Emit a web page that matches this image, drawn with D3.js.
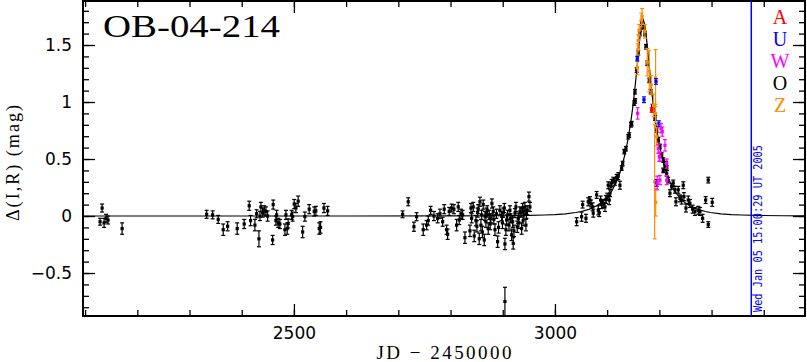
<!DOCTYPE html>
<html>
<head>
<meta charset="utf-8">
<script src="https://cdn.jsdelivr.net/npm/d3@7"></script>
<style>
  body { margin: 0; background: #fff; }
</style>
</head>
<body>
<div id="grafico"></div>
<script>
const width = 807;
const height = 362;

// === DATOS ===
const titulo = "OB-04-214";
const xDominio = [2096, 3479];
const yDominio = [-0.877, 1.886];
const xTicksMayores = [2500, 3000];
const xTicksMenores = d3.range(2100, 3480, 100);
const yTicksMayores = [-0.5, 0, 0.5, 1, 1.5];
const yTicksMenores = d3.range(-0.8, 1.85, 0.1).map(v => Math.round(v * 10) / 10);
const fechaJD = 3376.1;
const fechaTexto = "Wed Jan 05 15:00:29 UT 2005";
const observatorios = ["A", "U", "W", "O", "Z"];
const coloresObs = ["#ff0000", "#0000ff", "#ff00ff", "#000000", "#ff8c00"];

// modelo (JD-2450000, Δmag)
const curvaModelo = [
  [2080, 0], [2600, 0.0001], [2800, 0.0008], [2900, 0.0024], [2950, 0.0048], [2980, 0.0088],
  [3000, 0.0125], [3020, 0.0194], [3040, 0.031], [3050, 0.0393], [3065, 0.058], [3080, 0.0894],
  [3090, 0.121], [3100, 0.1654], [3108, 0.213], [3115, 0.2729], [3120, 0.325], [3125, 0.3878],
  [3130, 0.465], [3135, 0.5588], [3140, 0.674], [3145, 0.8157], [3149, 0.951], [3152, 1.069],
  [3155, 1.20], [3158, 1.340], [3160, 1.436], [3163, 1.575], [3166, 1.681], [3169, 1.722],
  [3172, 1.681], [3175, 1.575], [3178, 1.436], [3180, 1.340], [3183, 1.20], [3186, 1.069],
  [3189, 0.951], [3193, 0.8157], [3198, 0.674], [3203, 0.5588], [3208, 0.465], [3213, 0.3878],
  [3218, 0.325], [3223, 0.2729], [3230, 0.213], [3238, 0.1654], [3248, 0.121], [3258, 0.0894],
  [3273, 0.058], [3288, 0.0393], [3298, 0.031], [3318, 0.0194], [3338, 0.0125], [3358, 0.0088],
  [3388, 0.0048], [3438, 0.0024], [3490, 0.0014]
];

// [JD-2450000, Δmag, error]
const datosA = [[3185.2, 0.93, 0.02]];

const datosU = [
  [3157.7, 1.38, 0.02], [3170.5, 1.02, 0.025], [3193.5, 1.18, 0.025],
  [3199.2, 0.81, 0.025], [3194.8, 0.29, 0.03]
];

const datosW = [
  [3158.4, 0.9, 0.05], [3203.0, 0.77, 0.04], [3205.6, 0.74, 0.04], [3210.7, 0.62, 0.05],
  [3197.9, 0.59, 0.04], [3199.8, 0.52, 0.04], [3214.0, 0.46, 0.04], [3214.0, 0.315, 0.04],
  [3195.9, 0.29, 0.06], [3201.1, 0.315, 0.04], [3201.1, 0.52, 0.04]
];

const datosO = [
  [2128.7, -0.05, 0.03], [2132.6, 0.07, 0.035], [2136.4, -0.06, 0.04], [2140.2, -0.02, 0.035],
  [2144.0, -0.035, 0.035], [2170.9, -0.11, 0.05],
  [2332.8, 0.015, 0.035], [2344.3, 0.01, 0.035], [2355.0, -0.03, 0.035], [2364.6, -0.12, 0.05],
  [2373.0, -0.09, 0.04], [2391.4, -0.11, 0.05], [2404.8, -0.07, 0.04], [2414.4, 0.09, 0.04],
  [2417.0, -0.04, 0.045], [2425.3, -0.08, 0.05], [2428.5, 0.02, 0.035], [2433.0, -0.2, 0.07],
  [2435.0, 0.0, 0.04], [2436.8, 0.08, 0.04], [2440.0, 0.03, 0.04], [2443.0, 0.05, 0.04],
  [2446.4, 0.04, 0.04], [2449.6, 0.0, 0.045], [2459.2, -0.21, 0.04], [2460.3, 0.1, 0.04],
  [2465.5, -0.04, 0.04], [2466.9, 0.01, 0.04], [2469.9, -0.06, 0.04], [2473.2, -0.07, 0.04],
  [2482.8, -0.12, 0.05], [2484.7, 0.01, 0.04], [2487.2, -0.11, 0.05], [2489.0, -0.065, 0.04],
  [2495.6, 0.01, 0.04], [2497.5, -0.005, 0.04], [2500.6, 0.105, 0.04], [2503.8, 0.07, 0.04],
  [2508.2, 0.13, 0.045], [2516.7, -0.14, 0.05], [2521.0, -0.005, 0.04], [2529.3, 0.06, 0.04],
  [2538.9, 0.04, 0.04], [2542.0, 0.045, 0.04], [2548.5, -0.11, 0.05], [2551.0, -0.1, 0.05],
  [2557.5, 0.07, 0.04], [2564.6, 0.045, 0.04],
  [2708.2, 0.015, 0.03], [2719.0, 0.125, 0.035], [2729.9, -0.094, 0.04], [2735.0, -0.006, 0.035],
  [2747.7, -0.12, 0.05], [2754.2, -0.08, 0.04], [2757.3, -0.04, 0.04], [2761.9, 0.05, 0.035],
  [2768.2, 0.0, 0.04], [2775.3, -0.02, 0.04], [2779.7, 0.02, 0.04], [2784.9, -0.05, 0.04],
  [2787.9, 0.06, 0.04], [2792.5, -0.12, 0.04], [2794.4, -0.16, 0.045], [2797.5, 0.04, 0.035],
  [2802.1, 0.07, 0.035], [2806.5, 0.06, 0.04], [2811.7, -0.08, 0.05], [2814.8, 0.08, 0.04],
  [2816.7, -0.035, 0.04], [2820.0, 0.02, 0.04], [2823.2, 0.01, 0.04], [2827.6, -0.19, 0.05],
  [2837.2, -0.13, 0.05], [2839.1, 0.07, 0.04], [2840.4, -0.02, 0.04], [2843.5, 0.08, 0.04],
  [2845.4, -0.175, 0.05], [2848.7, -0.04, 0.045], [2851.9, 0.03, 0.04], [2855.0, -0.2, 0.05],
  [2856.3, 0.125, 0.04], [2858.2, -0.08, 0.05], [2859.6, 0.01, 0.04], [2862.6, 0.1, 0.04],
  [2864.6, -0.21, 0.05], [2865.9, 0.0, 0.04], [2867.8, -0.05, 0.05], [2870.3, 0.05, 0.04],
  [2872.2, -0.11, 0.05], [2874.1, 0.01, 0.04], [2877.4, -0.02, 0.04], [2879.3, 0.11, 0.04],
  [2881.8, 0.04, 0.04], [2885.1, -0.12, 0.05], [2890.2, -0.225, 0.05], [2894.6, 0.05, 0.04],
  [2897.9, 0.0, 0.04], [2901.0, 0.03, 0.04], [2904.2, -0.245, 0.05], [2906.1, -0.12, 0.05],
  [2907.5, -0.035, 0.045], [2909.4, 0.01, 0.04], [2911.9, -0.08, 0.05], [2913.8, 0.05, 0.04],
  [2917.0, -0.165, 0.05], [2919.0, -0.05, 0.05], [2920.1, -0.24, 0.05], [2923.4, 0.025, 0.04],
  [2925.3, 0.08, 0.04], [2927.8, -0.094, 0.05], [2929.7, -0.02, 0.045], [2933.0, 0.04, 0.04],
  [2936.2, -0.11, 0.05], [2938.1, 0.07, 0.04], [2940.6, 0.01, 0.04], [2942.5, 0.08, 0.04],
  [2944.4, -0.08, 0.05], [2946.9, 0.05, 0.04], [2950.2, 0.17, 0.04], [2952.1, 0.08, 0.04],
  [2850.5, -0.09, 0.05], [2853.0, 0.06, 0.04], [2861.0, -0.14, 0.05], [2868.9, 0.03, 0.04],
  [2876.0, -0.07, 0.05], [2883.0, -0.03, 0.04], [2888.0, 0.02, 0.04], [2892.0, -0.1, 0.05],
  [2899.5, -0.06, 0.05], [2903.0, 0.07, 0.04], [2915.0, -0.02, 0.04], [2921.5, -0.13, 0.05],
  [2931.0, -0.06, 0.05], [2935.0, 0.03, 0.04], [2939.0, -0.04, 0.045], [2945.5, 0.02, 0.04],
  [2904.2, -0.75, 0.125],
  [3041.6, -0.05, 0.035], [3051.1, -0.006, 0.04], [3053.1, 0.1, 0.03], [3059.4, -0.02, 0.035],
  [3063.8, 0.125, 0.035], [3067.0, 0.14, 0.03], [3069.0, 0.11, 0.03], [3072.2, 0.08, 0.035],
  [3073.4, 0.025, 0.035], [3079.9, 0.185, 0.03], [3083.0, 0.05, 0.04], [3084.9, 0.03, 0.035],
  [3087.5, 0.14, 0.035], [3089.5, 0.1, 0.035], [3092.5, 0.11, 0.035], [3095.8, 0.08, 0.04],
  [3097.7, 0.145, 0.035], [3100.2, 0.17, 0.03], [3102.1, 0.27, 0.03], [3104.0, 0.14, 0.04],
  [3105.4, 0.2, 0.03], [3107.3, 0.26, 0.03], [3108.6, 0.29, 0.03], [3111.7, 0.315, 0.025],
  [3114.9, 0.3, 0.03], [3118.2, 0.34, 0.025], [3121.3, 0.35, 0.03], [3124.5, 0.27, 0.035],
  [3127.8, 0.42, 0.02], [3129.7, 0.46, 0.02], [3132.8, 0.565, 0.02], [3136.0, 0.59, 0.02],
  [3140.4, 0.695, 0.02], [3142.3, 0.71, 0.02], [3145.6, 0.8, 0.02], [3146.9, 0.81, 0.02],
  [3151.9, 0.99, 0.02], [3153.8, 1.01, 0.02], [3153.3, 1.09, 0.02], [3156.5, 1.28, 0.02],
  [3159.6, 1.43, 0.02], [3162.8, 1.6, 0.02], [3166.1, 1.69, 0.02], [3169.2, 1.66, 0.02],
  [3172.4, 1.6, 0.02], [3174.3, 1.485, 0.02], [3176.8, 1.34, 0.02], [3180.7, 1.19, 0.02],
  [3183.3, 1.09, 0.02], [3187.2, 0.96, 0.02], [3191.6, 0.86, 0.02], [3194.8, 0.755, 0.02],
  [3197.9, 0.67, 0.02], [3201.1, 0.61, 0.02], [3204.4, 0.535, 0.02], [3207.5, 0.49, 0.02],
  [3210.7, 0.43, 0.02], [3214.0, 0.42, 0.02], [3207.5, 0.4, 0.02], [3212.6, 0.46, 0.02],
  [3214.0, 0.375, 0.025], [3217.0, 0.315, 0.025], [3220.3, 0.2, 0.03], [3223.6, 0.26, 0.025],
  [3226.6, 0.29, 0.025], [3229.9, 0.23, 0.03], [3231.8, 0.125, 0.035], [3236.2, 0.23, 0.03],
  [3239.5, 0.155, 0.03], [3242.7, 0.14, 0.035], [3245.8, 0.27, 0.03], [3247.1, 0.17, 0.035],
  [3251.0, 0.07, 0.035], [3255.4, 0.14, 0.035], [3258.6, 0.11, 0.035], [3263.8, 0.06, 0.035],
  [3268.2, 0.04, 0.035], [3274.5, 0.05, 0.035], [3277.8, 0.04, 0.035], [3282.9, -0.02, 0.035],
  [3288.7, 0.14, 0.03], [3293.7, 0.315, 0.025], [3293.7, -0.075, 0.025], [3301.3, 0.12, 0.035]
];

const datosZ = [
  [3158.0, 1.30, 0.06], [3158.8, 1.46, 0.05], [3159.6, 1.54, 0.05], [3161.2, 1.63, 0.05],
  [3165.5, 1.72, 0.06], [3167.0, 1.75, 0.07], [3172.4, 1.62, 0.06], [3176.8, 1.35, 0.12],
  [3180.7, 1.27, 0.18], [3184.4, 1.15, 0.08], [3188.8, 0.97, 0.1], [3192.8, 1.21, 0.25],
  [3192.6, 0.9, 0.08], [3194.8, 0.695, 0.08], [3191.0, 0.3, 0.5], [3193.0, 0.12, 0.12]
];

const series = [
  { nombre: "O", datos: datosO },
  { nombre: "Z", datos: datosZ },
  { nombre: "U", datos: datosU },
  { nombre: "W", datos: datosW },
  { nombre: "A", datos: datosA }
];

// === ESCALAS ===
const plot = { left: 83, right: 805, top: 1, bottom: 316 };
const x = d3.scaleLinear().domain(xDominio).range([plot.left, plot.right]);
const y = d3.scaleLinear().domain(yDominio).range([plot.bottom, plot.top]);
const colorObs = d3.scaleOrdinal().domain(observatorios).range(coloresObs);

const svg = d3.select("#grafico")
  .append("svg")
  .attr("width", width)
  .attr("height", height);

svg.append("rect").attr("width", width).attr("height", height).attr("fill", "#fff");

svg.append("defs").append("clipPath").attr("id", "clip")
  .append("rect")
  .attr("x", plot.left).attr("y", plot.top)
  .attr("width", plot.right - plot.left).attr("height", plot.bottom - plot.top);

// === EJES (ticks hacia dentro) ===
function ejes(eje) {
  eje.selectAll(".domain").remove();
  eje.selectAll("line").attr("stroke", "#000").attr("stroke-width", 1.3);
}

const fuenteNum = "'DejaVu Sans', sans-serif";

// abajo
svg.append("g").attr("transform", `translate(0,${plot.bottom})`)
  .call(d3.axisBottom(x).tickValues(xTicksMenores).tickSize(-6).tickFormat(""))
  .call(ejes);
svg.append("g").attr("transform", `translate(0,${plot.bottom})`)
  .call(d3.axisBottom(x).tickValues(xTicksMayores).tickSize(-12).tickPadding(11).tickFormat(d3.format("d")))
  .call(ejes)
  .selectAll("text").attr("font-family", fuenteNum).attr("font-size", 17).attr("fill", "#000");

// arriba
svg.append("g").attr("transform", `translate(0,${plot.top})`)
  .call(d3.axisTop(x).tickValues(xTicksMenores).tickSize(-6).tickFormat(""))
  .call(ejes);
svg.append("g").attr("transform", `translate(0,${plot.top})`)
  .call(d3.axisTop(x).tickValues(xTicksMayores).tickSize(-12).tickFormat(""))
  .call(ejes);

// izquierda
svg.append("g").attr("transform", `translate(${plot.left},0)`)
  .call(d3.axisLeft(y).tickValues(yTicksMenores).tickSize(-6).tickFormat(""))
  .call(ejes);
svg.append("g").attr("transform", `translate(${plot.left},0)`)
  .call(d3.axisLeft(y).tickValues(yTicksMayores).tickSize(-12).tickPadding(11)
    .tickFormat(d => d3.format("")(d).replace("-", "−")))
  .call(ejes)
  .selectAll("text").attr("font-family", fuenteNum).attr("font-size", 17).attr("fill", "#000");

// derecha
svg.append("g").attr("transform", `translate(${plot.right},0)`)
  .call(d3.axisRight(y).tickValues(yTicksMenores).tickSize(-6).tickFormat(""))
  .call(ejes);
svg.append("g").attr("transform", `translate(${plot.right},0)`)
  .call(d3.axisRight(y).tickValues(yTicksMayores).tickSize(-12).tickFormat(""))
  .call(ejes);

// marco
svg.append("rect")
  .attr("x", plot.left).attr("y", plot.top)
  .attr("width", plot.right - plot.left).attr("height", plot.bottom - plot.top)
  .attr("fill", "none").attr("stroke", "#000").attr("stroke-width", 2);

// === CURVA DEL MODELO ===
const grupoDatos = svg.append("g").attr("clip-path", "url(#clip)");

grupoDatos.append("path")
  .datum(curvaModelo)
  .attr("fill", "none")
  .attr("stroke", "#000")
  .attr("stroke-width", 1.2)
  .attr("d", d3.line().x(d => x(d[0])).y(d => y(d[1])));

// === PUNTOS CON BARRAS DE ERROR ===
series.forEach(s => {
  const col = colorObs(s.nombre);
  const g = grupoDatos.append("g").attr("class", "serie-" + s.nombre);
  const puntos = g.selectAll("g").data(s.datos).join("g");

  puntos.append("line")
    .attr("x1", d => x(d[0])).attr("x2", d => x(d[0]))
    .attr("y1", d => y(d[1] - d[2])).attr("y2", d => y(d[1] + d[2]))
    .attr("stroke", col).attr("stroke-width", 1.2);
  puntos.append("line")
    .attr("x1", d => x(d[0]) - 2).attr("x2", d => x(d[0]) + 2)
    .attr("y1", d => y(d[1] - d[2])).attr("y2", d => y(d[1] - d[2]))
    .attr("stroke", col).attr("stroke-width", 1.2);
  puntos.append("line")
    .attr("x1", d => x(d[0]) - 2).attr("x2", d => x(d[0]) + 2)
    .attr("y1", d => y(d[1] + d[2])).attr("y2", d => y(d[1] + d[2]))
    .attr("stroke", col).attr("stroke-width", 1.2);
  puntos.append("rect")
    .attr("x", d => x(d[0]) - 1.6).attr("y", d => y(d[1]) - 1.6)
    .attr("width", 3.2).attr("height", 3.2)
    .attr("fill", col);
});

// === LINEA DE FECHA ===
svg.append("line")
  .attr("x1", x(fechaJD)).attr("x2", x(fechaJD))
  .attr("y1", plot.top).attr("y2", plot.bottom)
  .attr("stroke", "#0000ff").attr("stroke-width", 1.5);

svg.append("text")
  .attr("transform", `translate(${x(fechaJD) + 11},312) rotate(-90)`)
  .attr("font-family", "'DejaVu Sans Mono', monospace")
  .attr("font-size", 12)
  .attr("fill", "#0000ff")
  .attr("textLength", 167)
  .attr("lengthAdjust", "spacingAndGlyphs")
  .text(fechaTexto);

// === LEYENDA ===
svg.append("g").selectAll("text")
  .data(observatorios)
  .join("text")
  .attr("x", 780)
  .attr("y", (d, i) => 24 + i * 22)
  .attr("text-anchor", "middle")
  .attr("font-family", "'Liberation Serif', serif")
  .attr("font-size", 20)
  .attr("fill", d => colorObs(d))
  .text(d => d);

// === TEXTOS ===
svg.append("text")
  .attr("x", 103).attr("y", 37)
  .attr("font-family", "'Liberation Serif', serif")
  .attr("font-size", 32)
  .attr("textLength", 177)
  .attr("lengthAdjust", "spacingAndGlyphs")
  .attr("fill", "#000")
  .text(titulo);

svg.append("text")
  .attr("x", (plot.left + plot.right) / 2).attr("y", 359)
  .attr("text-anchor", "middle")
  .attr("font-family", "'Liberation Serif', serif")
  .attr("font-size", 19)
  .attr("textLength", 135)
  .attr("lengthAdjust", "spacing")
  .attr("fill", "#000")
  .text("JD − 2450000");

svg.append("text")
  .attr("transform", "translate(19,163) rotate(-90)")
  .attr("text-anchor", "middle")
  .attr("font-family", "'Liberation Serif', serif")
  .attr("font-size", 18)
  .attr("textLength", 116)
  .attr("lengthAdjust", "spacing")
  .attr("fill", "#000")
  .text("Δ(I,R) (mag)");
</script>
</body>
</html>
